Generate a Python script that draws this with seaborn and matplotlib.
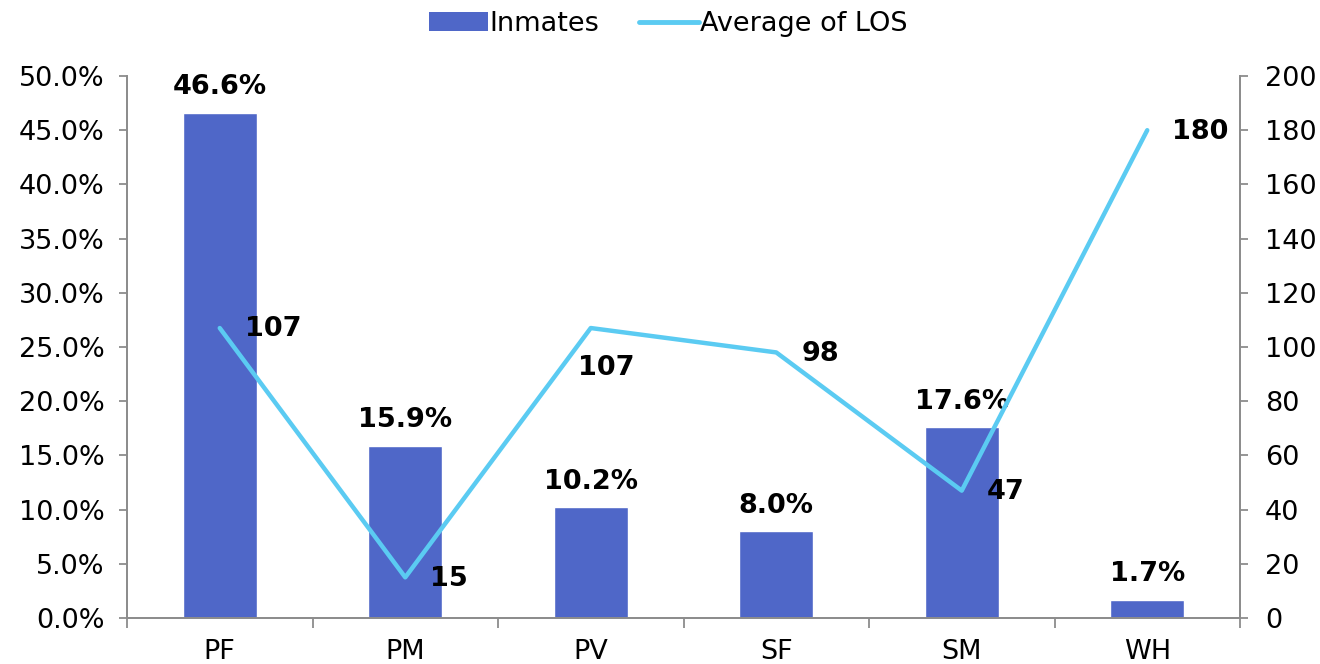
import numpy as np
import pandas as pd
import matplotlib
matplotlib.use("Agg")
import matplotlib.pyplot as plt
import seaborn as sns
from matplotlib.patches import Patch
from matplotlib.lines import Line2D

categories = ["PF", "PM", "PV", "SF", "SM", "WH"]
inmates_pct = [46.6, 15.9, 10.2, 8.0, 17.6, 1.7]
avg_los = [107, 15, 107, 98, 47, 180]

bar_color = "#4F67C8"
line_color = "#5BCBF2"
axis_color = "#8C8C8C"

sns.set_theme(style="white")
plt.rcParams["font.family"] = ["DejaVu Sans"]
plt.rcParams["text.color"] = "black"

df = pd.DataFrame({"cat": categories, "inmates": inmates_pct, "los": avg_los,
                   "pos": np.arange(len(categories))})

fig = plt.figure(figsize=(13.2, 6.64), dpi=100)
ax = fig.add_axes([127 / 1320, 46 / 664, (1240 - 127) / 1320, (618 - 76) / 664])

sns.barplot(data=df, x="cat", y="inmates", color=bar_color, width=0.4,
            saturation=1, ax=ax, zorder=2)
ax.set_xlim(-0.5, len(categories) - 0.5)
ax.set_ylim(0, 50)
ax.set_yticks(np.arange(0, 50.1, 5))
ax.set_yticklabels([f"{v:.1f}%" for v in np.arange(0, 50.1, 5)])
ax.set_xlabel("")
ax.set_ylabel("")

# value labels above the bars
for p, v in zip(ax.patches, inmates_pct):
    ax.annotate(f"{v:.1f}%", (p.get_x() + p.get_width() / 2, v),
                xytext=(0, 9), textcoords="offset points",
                ha="center", va="bottom", fontsize=19.5, fontweight="bold",
                color="black")

ax2 = ax.twinx()
sns.lineplot(data=df, x="pos", y="los", color=line_color, linewidth=3.2,
             ax=ax2, zorder=3)
ax2.set_ylim(0, 200)
ax2.set_yticks(np.arange(0, 201, 20))
ax2.set_xlabel("")
ax2.set_ylabel("")
ax2.set_xlim(-0.5, len(categories) - 0.5)

# line value labels
offsets = {2: (11, -29, "center")}
for i, v in enumerate(avg_los):
    dx, dy, ha = offsets.get(i, (18, -1, "left"))
    ax2.annotate(f"{v}", (i, v), xytext=(dx, dy), textcoords="offset points",
                 ha=ha, va="center", fontsize=19.5, fontweight="bold",
                 color="black")

# axes styling
for a in (ax, ax2):
    a.spines["top"].set_visible(False)
    for s in ("left", "right", "bottom"):
        a.spines[s].set_color(axis_color)
        a.spines[s].set_linewidth(1.3)
    a.grid(False)

ax.tick_params(axis="y", which="major", direction="out", length=6, width=1.3,
               color=axis_color, labelsize=19.5, labelcolor="black", left=True, pad=10)
ax2.tick_params(axis="y", which="major", direction="out", length=6, width=1.3,
                color=axis_color, labelsize=19.5, labelcolor="black", right=True, pad=12)
ax.set_xticks(np.arange(-0.5, len(categories), 1.0), minor=True)
ax.tick_params(axis="x", which="minor", direction="out", length=7, width=1.3,
               color=axis_color, bottom=True)
ax.tick_params(axis="x", which="major", length=0, labelsize=19.5,
               labelcolor="black", pad=15)
ax2.tick_params(axis="x", which="both", length=0)

handles = [Patch(facecolor=bar_color, edgecolor="none"),
           Line2D([0], [0], color=line_color, linewidth=3.5)]
leg = fig.legend(handles, ["Inmates", "Average of LOS"], loc="upper center",
                 bbox_to_anchor=(0.506, 1.02), ncol=2, frameon=False, fontsize=19.5,
                 handlelength=2.2, handletextpad=0.02, columnspacing=1.5)
for t in leg.get_texts():
    t.set_color("black")

fig.savefig("out.png", dpi=100)
